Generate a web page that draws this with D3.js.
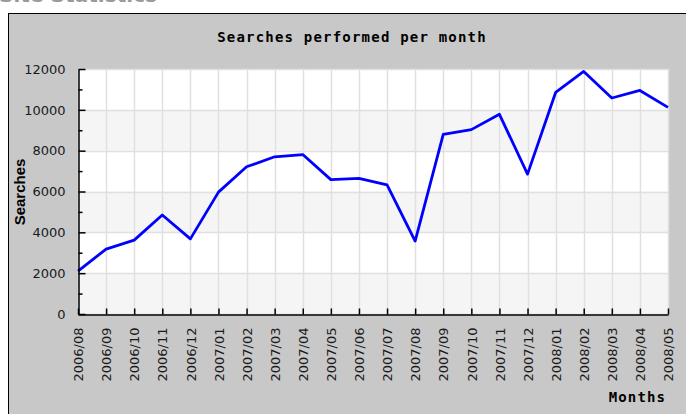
<!DOCTYPE html>
<html>
<head>
<meta charset="utf-8">
<script src="https://cdn.jsdelivr.net/npm/d3@7"></script>
<style>
  body { margin: 0; background: #fff; }
  svg { display: block; }
</style>
</head>
<body>
<svg id="chart" width="686" height="414"></svg>
<script>
"use strict"

// Months on the x axis
const months = ["2006/08", "2006/09", "2006/10", "2006/11", "2006/12",
	"2007/01", "2007/02", "2007/03", "2007/04", "2007/05", "2007/06",
	"2007/07", "2007/08", "2007/09", "2007/10", "2007/11", "2007/12",
	"2008/01", "2008/02", "2008/03", "2008/04", "2008/05"]

// Searches per month
const searches = [2100, 3180, 3620, 4850, 3680,
	5970, 7210, 7700, 7810, 6580, 6640,
	6320, 3570, 8800, 9030, 9780, 6850,
	10850, 11880, 10580, 10950, 10120]

const yMajor = [0, 2000, 4000, 6000, 8000, 10000, 12000]
const yMinor = [1000, 3000, 5000, 7000, 9000, 11000]

const svg = d3.select("#chart")

const plot = { left: 78, right: 668, top: 69, bottom: 314 }

const x = d3.scalePoint()
	.domain(months)
	.range([plot.left, plot.right])

const y = d3.scaleLinear()
	.domain([0, 12000])
	.range([plot.bottom, plot.top])

// Cut-off page heading above the panel
svg.append("text")
	.attr("x", -1)
	.attr("y", 2)
	.attr("textLength", 158)
	.attr("lengthAdjust", "spacing")
	.style("font-family", "DejaVu Sans")
	.style("font-weight", "bold")
	.style("font-size", "20px")
	.style("fill", "#9a9a9a")
	.text("Site Statistics")

// Grey panel
svg.append("rect")
	.attr("x", 8.5)
	.attr("y", 13.5)
	.attr("width", 700)
	.attr("height", 420)
	.attr("fill", "#c8c8c8")
	.attr("stroke", "#000")

// Plot background
svg.append("rect")
	.attr("x", plot.left)
	.attr("y", plot.top)
	.attr("width", plot.right - plot.left)
	.attr("height", plot.bottom - plot.top)
	.attr("fill", "#fff")

// Alternating bands
const bands = []
for (let i = 0; i < yMajor.length - 1; ++i)
	if (i % 2 === 0)
		bands.push([yMajor[i], yMajor[i + 1]])

svg.selectAll(".band")
	.data(bands)
	.enter()
	.append("rect")
	.attr("class", "band")
	.attr("x", plot.left)
	.attr("y", d => y(d[1]))
	.attr("width", plot.right - plot.left)
	.attr("height", d => y(d[0]) - y(d[1]))
	.attr("fill", "#f5f5f5")

// Grid lines
svg.selectAll(".vgrid")
	.data(months)
	.enter()
	.append("line")
	.attr("class", "vgrid")
	.attr("x1", d => Math.round(x(d)) + 0.5)
	.attr("x2", d => Math.round(x(d)) + 0.5)
	.attr("y1", plot.top)
	.attr("y2", plot.bottom)
	.attr("stroke", "#e0e0e0")
	.attr("stroke-width", 1.5)

svg.selectAll(".hgrid")
	.data(yMajor)
	.enter()
	.append("line")
	.attr("class", "hgrid")
	.attr("x1", plot.left)
	.attr("x2", plot.right)
	.attr("y1", d => Math.round(y(d)) + 0.5)
	.attr("y2", d => Math.round(y(d)) + 0.5)
	.attr("stroke", "#e0e0e0")
	.attr("stroke-width", 1.5)

// Data line
const line = d3.line()
	.x((d, i) => x(months[i]))
	.y(d => y(d))

svg.append("path")
	.datum(searches)
	.attr("fill", "none")
	.attr("stroke", "#0000ff")
	.attr("stroke-width", 2.8)
	.attr("stroke-linejoin", "round")
	.attr("d", line)

// Axes
const xAxis = d3.axisBottom(x)
	.tickSizeInner(-6)
	.tickSizeOuter(0)

const gx = svg.append("g")
	.attr("transform", "translate(0," + (plot.bottom + 0.5) + ")")
	.call(xAxis)

gx.selectAll("text")
	.attr("transform", "rotate(-90)")
	.attr("x", -13)
	.attr("y", 0)
	.attr("dy", "0.36em")
	.style("text-anchor", "end")

const yAxis = d3.axisLeft(y)
	.tickValues(yMajor)
	.tickSizeInner(-7)
	.tickSizeOuter(0)
	.tickPadding(13)
	.tickFormat(d3.format("d"))

const gy = svg.append("g")
	.attr("transform", "translate(" + (plot.left + 0.5) + ",0)")
	.call(yAxis)

svg.append("g")
	.attr("transform", "translate(" + (plot.left + 0.5) + ",0)")
	.call(d3.axisLeft(y).tickValues(yMinor).tickSizeInner(-4).tickSizeOuter(0).tickFormat(""))
	.select(".domain").remove()

svg.selectAll(".tick text")
	.style("font-family", "DejaVu Sans")
	.style("font-size", "13px")
	.style("fill", "#1a1a1a")

svg.selectAll(".domain, .tick line")
	.attr("stroke", "#000")
	.attr("stroke-width", 1.5)

// Title and axis labels
svg.append("text")
	.attr("x", 352)
	.attr("y", 42)
	.style("text-anchor", "middle")
	.style("font-family", "DejaVu Sans Mono")
	.style("font-weight", "bold")
	.style("font-size", "14px")
	.style("letter-spacing", "1.2px")
	.style("fill", "#000")
	.text("Searches performed per month")

svg.append("text")
	.attr("x", 666)
	.attr("y", 402)
	.style("text-anchor", "end")
	.style("font-family", "DejaVu Sans Mono")
	.style("font-weight", "bold")
	.style("font-size", "14px")
	.style("letter-spacing", "1.1px")
	.style("fill", "#000")
	.text("Months")

svg.append("text")
	.attr("transform", "translate(25,192) rotate(-90)")
	.style("text-anchor", "middle")
	.style("font-family", "Liberation Sans")
	.style("font-weight", "bold")
	.style("font-size", "15px")
	.style("fill", "#000")
	.text("Searches")
</script>
</body>
</html>
